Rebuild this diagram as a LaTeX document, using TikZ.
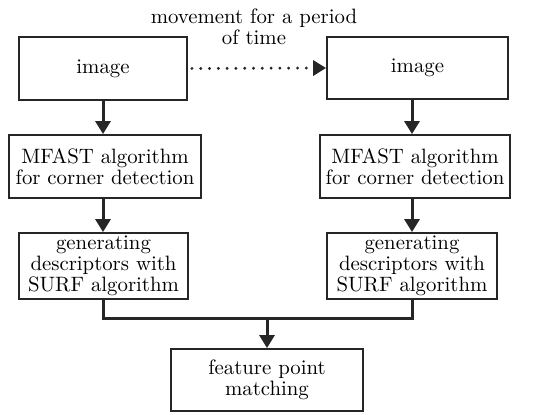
\documentclass[tikz,border=0pt]{standalone}
\usepackage{amsmath}
\usetikzlibrary{arrows.meta}

\tikzset{
    box/.style={draw=black!85, line width=0.9pt, align=center, inner sep=1pt,
        font=\fontsize{10.4}{10.6}\selectfont},
    arr/.style={draw=black!85, line width=1.5pt, -{Triangle[length=6.5pt,width=7.5pt]}},
    link/.style={draw=black!85, line width=1.5pt}
}

\begin{document}
\begin{tikzpicture}[x=0.5pt, y=-0.5pt]

        \useasboundingbox (0,0) rectangle (534,415);

        \node[align=center, font=\fontsize{10.4}{10.6}\selectfont] (title) at (254,27) {movement for a period\\of time};

        \node[box, minimum width=84pt, minimum height=31.5pt] (imgL) at (103,68.5) {image};
        \node[box, minimum width=90.5pt, minimum height=31pt] (imgR) at (417.5,68) {image};

        \node[box, minimum width=96pt, minimum height=31.5pt] (mfL) at (105,166.5) {MFAST algorithm\\for corner detection};
        \node[box, minimum width=95pt, minimum height=31.5pt] (mfR) at (415,166.5) {MFAST algorithm\\for corner detection};

        \node[box, minimum width=84.5pt, minimum height=33pt] (sfL) at (103.5,266) {generating\\descriptors with\\SURF algorithm};
        \node[box, minimum width=85pt, minimum height=33pt] (sfR) at (412,266) {generating\\descriptors with\\SURF algorithm};

        \node[box, minimum width=96pt, minimum height=31pt] (feat) at (267,380) {feature point\\matching};

        \draw[arr, line width=1.6pt, line cap=round, dash pattern=on 0pt off 4.4pt] ([xshift=2pt]imgL.east) -- (imgR.west);

        \draw[arr] (imgL.south) -- (imgL.south |- mfL.north);
        \draw[arr] (mfL.south -| imgL.south) -- (imgL.south |- sfL.north);
        \draw[arr] (imgR.south -| sfR.north) -- (mfR.north -| sfR.north);
        \draw[arr] (mfR.south -| sfR.north) -- (sfR.north);

        \coordinate (join) at (267,319);
        \draw[link] (sfL.south) |- (join) -| (sfR.south);
        \draw[arr] (join) -- (feat.north);

    \end{tikzpicture}
\end{document}
